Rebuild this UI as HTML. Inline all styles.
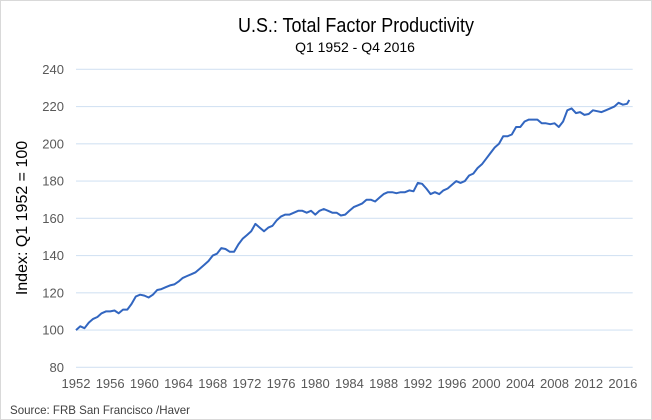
<!DOCTYPE html>
<html><head><meta charset="utf-8"><style>
body{margin:0;background:#fff}
svg{display:block;font-family:"Liberation Sans",sans-serif}
</style></head><body>
<svg width="652" height="420" viewBox="0 0 652 420">
<rect x="0.5" y="0.5" width="651" height="419" fill="#fff" stroke="#d9d9d9"/>
<text x="356" y="32" font-size="20" text-anchor="middle" textLength="236" lengthAdjust="spacingAndGlyphs" fill="#000">U.S.: Total Factor Productivity</text>
<text x="355" y="52" font-size="14" text-anchor="middle" fill="#000">Q1 1952 - Q4 2016</text>
<text transform="translate(27,218) rotate(-90)" font-size="16" text-anchor="middle" fill="#000">Index: Q1 1952 = 100</text>
<text x="10" y="414" font-size="12" textLength="180" lengthAdjust="spacingAndGlyphs" fill="#404040">Source: FRB San Francisco /Haver</text>
<g id="grid"></g><g id="yt"></g><g id="xt"></g><g id="ln"></g>
</svg>
<script>
const yTicks=[80,100,120,140,160,180,200,220,240];
const xTicks=[1952,1956,1960,1964,1968,1972,1976,1980,1984,1988,1992,1996,2000,2004,2008,2012,2016];
const years=[1952,1952.5,1953,1953.5,1954,1954.5,1955,1955.5,1956,1956.5,1957,1957.5,1958,1958.5,1959,1959.5,1960,1960.5,1961,1961.5,1962,1962.5,1963,1963.5,1964,1964.5,1965,1965.5,1966,1966.5,1967,1967.5,1968,1968.5,1969,1969.5,1970,1970.5,1971,1971.5,1972,1972.5,1973,1973.5,1974,1974.5,1975,1975.5,1976,1976.5,1977,1977.5,1978,1978.5,1979,1979.5,1980,1980.5,1981,1981.5,1982,1982.5,1983,1983.5,1984,1984.5,1985,1985.5,1986,1986.5,1987,1987.5,1988,1988.5,1989,1989.5,1990,1990.5,1991,1991.5,1992,1992.5,1993,1993.5,1994,1994.5,1995,1995.5,1996,1996.5,1997,1997.5,1998,1998.5,1999,1999.5,2000,2000.5,2001,2001.5,2002,2002.5,2003,2003.5,2004,2004.5,2005,2005.5,2006,2006.5,2007,2007.5,2008,2008.5,2009,2009.5,2010,2010.5,2011,2011.5,2012,2012.5,2013,2013.5,2014,2014.5,2015,2015.5,2016,2016.5,2016.75];
const values=[100,102,101,104,106,107,109,110,110,110.5,109,111,111,114,118,119,118.5,117.5,119,121.5,122,123,124,124.5,126,128,129,130,131,133,135,137,140,141,144,143.5,142,142,146,149,151,153,157,155,153,155,156,159,161,162,162,163,164,164,163,164,162,164,165,164,163,163,161.5,162,164,166,167,168,170,170,169,171,173,174,174,173.5,174,174,175,174.5,179,178.5,176,173,174,173,175,176,178,180,179,180,183,184,187,189,192,195,198,200,204,204,205,209,209,212,213,213,213,211,211,210.5,211,209,212,218,219,216.5,217,215.5,216,218,217.5,217,218,219,220,222,221,221.5,223.5];
const NS='http://www.w3.org/2000/svg';
const X0=76,X1=632.7,Y0=367.3,Y1=69.3;
const xs=v=>X0+(v-1952)/(2017.15-1952)*(X1-X0);
const ys=v=>Y0-(v-80)/(240-80)*(Y0-Y1);
function mk(t,a,p){const e=document.createElementNS(NS,t);for(const k in a)e.setAttribute(k,a[k]);p.appendChild(e);return e;}
const grid=document.getElementById('grid'),yt=document.getElementById('yt'),xt=document.getElementById('xt'),ln=document.getElementById('ln');
yTicks.forEach(v=>{
 const l=mk('line',{x1:X0,x2:X1,y1:ys(v),y2:ys(v),stroke:'#d4e3f3','stroke-width':1.2},grid);
 
 
 const t=mk('text',{x:64,y:ys(v)+4.5,'font-size':13,'text-anchor':'end',fill:'#595959'},yt);
 t.textContent=v;
 
 
});
xTicks.forEach(v=>{
 const t=mk('text',{x:xs(v),y:388,'font-size':13,'text-anchor':'middle',fill:'#595959'},xt);
 t.textContent=v;
 
 
});
const d=years.map((y,i)=>(i?'L':'M')+xs(y).toFixed(1)+','+ys(values[i]).toFixed(1)).join('');
const p=mk('path',{d:d,fill:'none',stroke:'#3266c0','stroke-width':2,'stroke-linejoin':'round'},ln);


</script>
</body></html>
